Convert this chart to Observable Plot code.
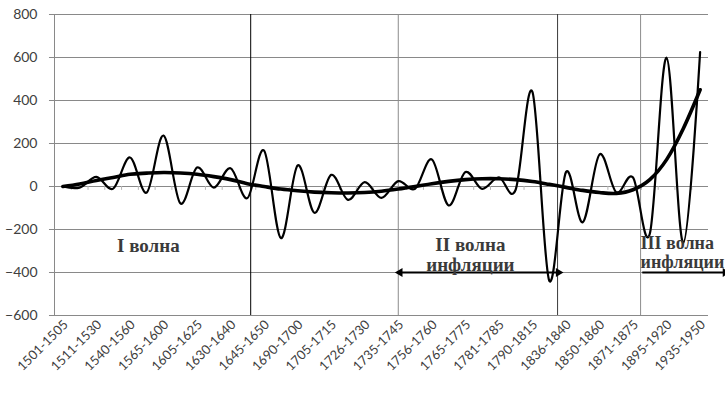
<!DOCTYPE html>
<html>
<head>
<meta charset="utf-8">
<script src="https://cdn.jsdelivr.net/npm/d3@7"></script>
<script src="https://cdn.jsdelivr.net/npm/@observablehq/plot@0.6"></script>
<style>
  html, body { margin: 0; padding: 0; background: #fff; }
  #chart { width: 725px; height: 394px; }
</style>
</head>
<body>
<div id="chart"></div>
<script>
// Tick labels (every other category is labelled)
const tickLabels = ["1501-1505","1511-1530","1540-1560","1565-1600","1605-1625","1630-1640","1645-1650","1690-1700","1705-1715","1726-1730","1735-1745","1756-1760","1765-1775","1781-1785","1790-1815","1836-1840","1850-1860","1871-1875","1895-1920","1935-1950"];

// Oscillating series (39 category points)
const inflation = [0, -5, 45, -10, 135, -28, 237, -78, 88, -5, 85, -54, 167, -240, 98, -122, 54, -62, 20, -53, 25, -11, 126, -88, 67, -11, 43, -15, 440, -437, 67, -166, 149, -27, 42, -220, 599, -262, 625];

// Trend line values at the same points
const trend = [0, 12, 28, 42, 57, 62, 65, 63, 57, 46, 32, 13, 0, -12, -20, -26, -29, -30, -28, -22, -12, 0, 13, 24, 32, 36, 36, 32, 23, 10, -4, -18, -28, -32, -15, 32, 125, 270, 450];

const yTicks = [-600, -400, -200, 0, 200, 400, 600, 800];

// Wave boundary lines (in category-index units)
const waveBounds = [11.2, 20.0, 29.5, 34.45];
const waveBoundColors = ["#000000", "#8c8c8c", "#3a3a3a", "#8c8c8c"];

// Wave arrows: start, end (category-index units), level
const arrowStart = [20.1, 34.55];
const arrowEnd = [29.55, 39.5];
const arrowLevel = -400;
const arrowBothHeads = [true, false];

// Annotations
const annText = ["I волна", "II волна", "инфляции", "III волна", "инфляции"];
const annX = [5.1, 24.3, 24.3, 34.45, 34.45];
const annY = [-274, -270, -363, -262, -351];
const annAnchor = ["middle", "middle", "middle", "start", "start"];

const idx = d3.range(inflation.length);
const boundaries = d3.range(0.5, inflation.length - 0.5, 1);

const ann = annText.map((t, i) => ({t, x: annX[i], y: annY[i], a: annAnchor[i]}));
const arrows = arrowStart.map((s, i) => ({s, e: arrowEnd[i], both: arrowBothHeads[i]}));
const heads = [];
arrows.forEach(a => {
  heads.push({x: a.e, dir: "r"});
  if (a.both) heads.push({x: a.s, dir: "l"});
});

const plot = Plot.plot({
  width: 725,
  height: 394,
  marginLeft: 54,
  marginRight: 17,
  marginTop: 14,
  marginBottom: 79,
  x: {domain: [-0.5, 38.5], axis: null},
  y: {domain: [-600, 800], axis: null},
  style: {fontFamily: "Lato, sans-serif", color: "#404040", background: "#fff", overflow: "visible"},
  marks: [
    // gridlines with small outward ticks
    Plot.ruleY(yTicks, {x1: -0.8, x2: 38.5, stroke: "#898989", strokeWidth: 1}),
    Plot.ruleX([-0.5], {y1: -600, y2: 800, stroke: "#898989"}),
    // category tick marks on the zero line
    Plot.ruleX(boundaries, {y1: 0, y2: -18, stroke: "#b5b5b5"}),
    // y tick labels
    Plot.axisY(yTicks, {tickSize: 0, tickPadding: 17, fontSize: 14, fill: "#404040", label: null}),
    // x tick labels
    Plot.text(tickLabels, {
      x: (d, i) => 2 * i, y: -600, text: d => d, rotate: -45,
      textAnchor: "end", dx: 3, dy: 7, fontSize: 13, fill: "#404040"
    }),
    // wave boundary lines
    Plot.ruleX(waveBounds, {y1: -600, y2: 800, stroke: (d, i) => waveBoundColors[i], strokeWidth: 1}),
    // series
    Plot.line(idx, {x: i => i, y: i => inflation[i], curve: "cardinal", stroke: "#000", strokeWidth: 2.2}),
    Plot.line(idx, {x: i => i, y: i => trend[i], curve: "cardinal", stroke: "#000", strokeWidth: 3.6}),
    // arrows
    Plot.link(arrows, {x1: "s", x2: "e", y1: arrowLevel, y2: arrowLevel, stroke: "#000", strokeWidth: 2}),
    Plot.dot(heads, {
      x: "x", y: arrowLevel, symbol: "triangle2", r: 4.2, fill: "#000", stroke: "none",
      rotate: d => d.dir === "r" ? 90 : -90
    }),
    // annotations
    Plot.text(ann.filter(d => d.a === "middle"), {
      x: "x", y: "y", text: "t", textAnchor: "middle",
      fontFamily: "'Liberation Serif', 'Times New Roman', serif", fontWeight: "bold", fontSize: 19, fill: "#3a3a3a"
    }),
    Plot.text(ann.filter(d => d.a === "start"), {
      x: "x", y: "y", text: "t", textAnchor: "start",
      fontFamily: "'Liberation Serif', 'Times New Roman', serif", fontWeight: "bold", fontSize: 18, fill: "#3a3a3a"
    })
  ]
});
document.getElementById("chart").appendChild(plot);
</script>
</body>
</html>
